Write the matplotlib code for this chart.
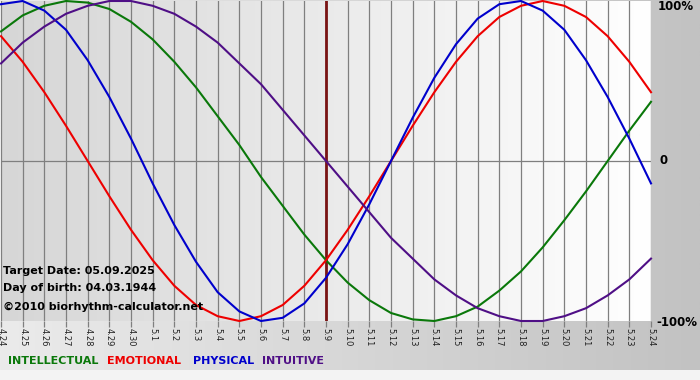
import numpy as np
import matplotlib
matplotlib.use("Agg")
import matplotlib.pyplot as plt
from matplotlib.colors import LinearSegmentedColormap
from matplotlib.patches import Rectangle

dates = ["4.24", "4.25", "4.26", "4.27", "4.28", "4.29", "4.30",
         "5.1", "5.2", "5.3", "5.4", "5.5", "5.6", "5.7", "5.8", "5.9",
         "5.10", "5.11", "5.12", "5.13", "5.14", "5.15", "5.16", "5.17",
         "5.18", "5.19", "5.20", "5.21", "5.22", "5.23", "5.24"]
target = "5.9"

physical = [0.98, 1.00, 0.94, 0.82, 0.63, 0.40, 0.14, -0.14, -0.40, -0.63,
            -0.82, -0.94, -1.00, -0.98, -0.89, -0.73, -0.52, -0.27, 0.00, 0.27,
            0.52, 0.73, 0.89, 0.98, 1.00, 0.94, 0.82, 0.63, 0.40, 0.14, -0.14]
emotional = [0.78, 0.62, 0.43, 0.22, 0.00, -0.22, -0.43, -0.62, -0.78, -0.90,
             -0.97, -1.00, -0.97, -0.90, -0.78, -0.62, -0.43, -0.22, 0.00, 0.22,
             0.43, 0.62, 0.78, 0.90, 0.97, 1.00, 0.97, 0.90, 0.78, 0.62, 0.43]
intellectual = [0.81, 0.91, 0.97, 1.00, 0.99, 0.95, 0.87, 0.76, 0.62, 0.46,
                0.28, 0.10, -0.10, -0.28, -0.46, -0.62, -0.76, -0.87, -0.95, -0.99,
                -1.00, -0.97, -0.91, -0.81, -0.69, -0.54, -0.37, -0.19, 0.00, 0.19, 0.37]
intuitive = [0.61, 0.74, 0.84, 0.92, 0.97, 1.00, 1.00, 0.97, 0.92, 0.84,
             0.74, 0.61, 0.48, 0.32, 0.16, 0.00, -0.16, -0.32, -0.48, -0.61,
             -0.74, -0.84, -0.92, -0.97, -1.00, -1.00, -0.97, -0.92, -0.84, -0.74, -0.61]

series = [("INTELLECTUAL", intellectual, "#0a780a"),
          ("EMOTIONAL", emotional, "#ee0000"),
          ("PHYSICAL", physical, "#0000cc"),
          ("INTUITIVE", intuitive, "#4f0f86")]

fig = plt.figure(figsize=(7, 3.8), dpi=100)

# background of the whole picture
bg = fig.add_axes([0, 0, 1, 1], zorder=0)
grad = np.linspace(0, 1, 256).reshape(1, -1)
bg.imshow(grad, cmap=LinearSegmentedColormap.from_list("bg", ["#ebebeb", "#c2c2c2"]),
          aspect="auto", extent=[0, 1, 0, 1])
bg.add_patch(Rectangle((0, 0), 1, 10 / 380, color="#f3f3f3", lw=0))
bg.set_xlim(0, 1)
bg.set_ylim(0, 1)
bg.set_axis_off()

ax = fig.add_axes([1 / 700, 59 / 380, 650 / 700, 320 / 380], zorder=1)
x = np.arange(len(dates))
ax.imshow(grad, cmap=LinearSegmentedColormap.from_list("plot", ["#d6d6d6", "#ffffff"]),
          aspect="auto", extent=[0, len(dates) - 1, -1, 1], zorder=0)

for xi in x:
    ax.axvline(xi, color="#7f7f7f", lw=0.9, zorder=1)
ax.axhline(0, color="#7f7f7f", lw=0.9, zorder=1)
ax.axvline(dates.index(target), color="#7a1414", lw=2, zorder=1)

for name, vals, col in series:
    ax.plot(x, vals, color=col, lw=1.5, clip_on=False, zorder=2)

ax.set_xlim(0, len(dates) - 1)
ax.set_ylim(-1, 1)
ax.set_xticks(x)
ax.set_xticklabels(dates, rotation=-90, fontsize=6, color="#222222")
ax.tick_params(axis="x", length=4, width=0.9, color="#7f7f7f", pad=1)
ax.set_yticks([])
for s in ax.spines.values():
    s.set_visible(False)

# right side percent labels
fig.text(658 / 700, 1 - 7 / 380, "100%", fontsize=8.5, fontweight="bold", va="center")
fig.text(660 / 700, 1 - 161 / 380, "0", fontsize=8.5, fontweight="bold", va="center")
fig.text(656 / 700, 1 - 322 / 380, "-100%", fontsize=8.5, fontweight="bold", va="center")

# info texts
fig.text(3 / 700, 1 - 271 / 380, "Target Date: 05.09.2025", fontsize=8, fontweight="bold", va="center", zorder=3)
fig.text(3 / 700, 1 - 288 / 380, "Day of birth: 04.03.1944", fontsize=8, fontweight="bold", va="center", zorder=3)
fig.text(3 / 700, 1 - 307 / 380, "©2010 biorhythm-calculator.net", fontsize=8, fontweight="bold", va="center", zorder=3)

# legend row
xs = [8, 107, 193, 262]
for (name, vals, col), lx in zip(series, xs):
    fig.text(lx / 700, 1 - 361 / 380, name, fontsize=8, fontweight="bold", color=col, va="center")

fig.savefig("out.png", dpi=100)
